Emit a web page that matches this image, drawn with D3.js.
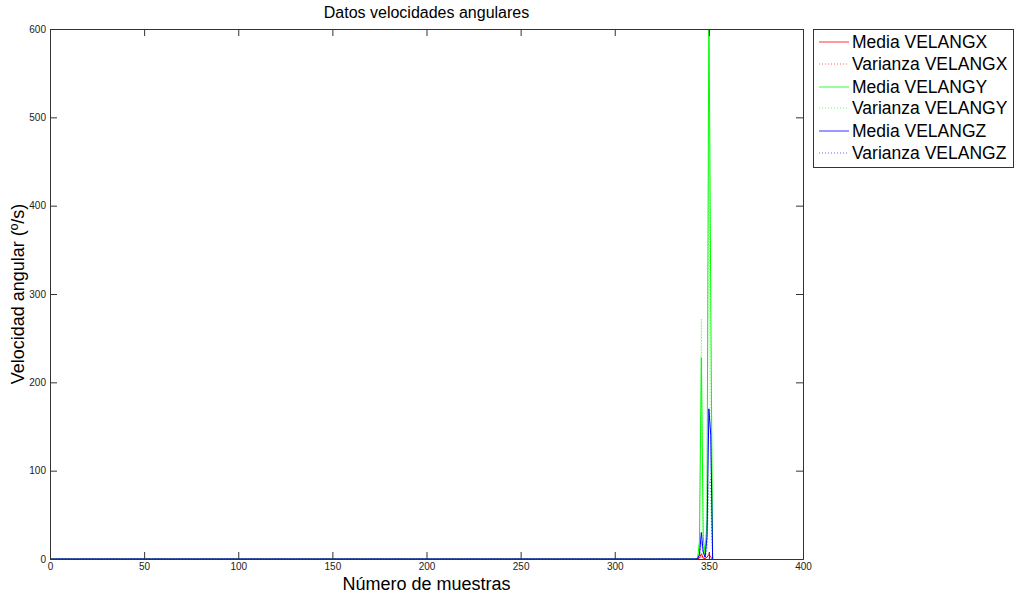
<!DOCTYPE html>
<html>
<head>
<meta charset="utf-8">
<script src="https://cdn.jsdelivr.net/npm/d3@7"></script>
<style>
  html, body { margin: 0; padding: 0; background: #fff; }
  svg { display: block; font-family: "Liberation Sans", Arial, sans-serif; }
</style>
</head>
<body>
<svg id="chart" width="1016" height="598"></svg>
<script>
// Sample numbers where the readings are recorded (flat at zero before the burst)
const samples = [0, 343, 344, 345, 346, 347, 348, 349, 350, 351, 352];

// Angular velocity statistics (º/s) per sample
const mediaX    = [0, 0, 0.3, 1, 6, 1, 0.5, 2, 5, 2, 0];
const varianzaX = [0, 0, 0.2, 0.5, 3, 0.5, 0.3, 1, 8, 1, 0];
const mediaY    = [0, 0, 1, 20, 228, 25, 5, 45, 640, 295, 0];
const varianzaY = [0, 0, 0.5, 10, 272, 15, 3, 30, 493, 60, 0];
const mediaZ    = [0, 0, 0.5, 5, 30, 8, 2, 25, 170, 140, 0];
const varianzaZ = [0, 0, 0.3, 3, 20, 5, 1, 10, 85, 90, 0];

const xTicks = [0, 50, 100, 150, 200, 250, 300, 350, 400];
const yTicks = [0, 100, 200, 300, 400, 500, 600];

const seriesNames = ["Media VELANGX", "Varianza VELANGX", "Media VELANGY",
                     "Varianza VELANGY", "Media VELANGZ", "Varianza VELANGZ"];
const seriesValues = [mediaX, varianzaX, mediaY, varianzaY, mediaZ, varianzaZ];
const seriesColors = ["#ff0000", "#ff0000", "#00ff00", "#00ff00", "#0000ff", "#0000ff"];
const seriesDashed = [false, true, false, true, false, true];

const svg = d3.select("#chart");
const plot = { left: 50, top: 29, right: 803, bottom: 559 };

const x = d3.scaleLinear().domain([0, 400]).range([plot.left, plot.right]);
const y = d3.scaleLinear().domain([0, 600]).range([plot.bottom, plot.top]);

svg.append("defs").append("clipPath").attr("id", "plotClip")
  .append("rect")
  .attr("x", plot.left).attr("y", plot.top)
  .attr("width", plot.right - plot.left).attr("height", plot.bottom - plot.top);

// Data lines
const line = d3.line().x(d => x(d[0])).y(d => y(d[1]));
const lines = svg.append("g").attr("clip-path", "url(#plotClip)");
seriesValues.forEach((vals, i) => {
  lines.append("path")
    .datum(samples.map((s, j) => [s, vals[j]]))
    .attr("d", line)
    .attr("fill", "none")
    .attr("stroke", seriesColors[i])
    .attr("stroke-width", 1)
    .attr("stroke-dasharray", seriesDashed[i] ? "1,2" : null)
    .attr("opacity", seriesDashed[i] ? 0.6 : 1);
});

// Axes with inward ticks on all four sides
const tickLen = 7;
const axisColor = "#333";
const axisBottom = d3.axisBottom(x).tickValues(xTicks).tickSize(-tickLen).tickPadding(4);
const axisTop = d3.axisTop(x).tickValues(xTicks).tickSize(-tickLen).tickFormat("");
const axisLeft = d3.axisLeft(y).tickValues(yTicks).tickSize(-tickLen).tickPadding(4);
const axisRight = d3.axisRight(y).tickValues(yTicks).tickSize(-tickLen).tickFormat("");

function styleAxis(g) {
  g.select(".domain").attr("stroke", axisColor);
  g.selectAll(".tick line").attr("stroke", axisColor);
  g.selectAll(".tick text").attr("fill", "#222")
    .style("font-family", "'Liberation Sans', Arial, sans-serif").style("font-size", "10px");
}

svg.append("g").attr("transform", `translate(0,${plot.bottom})`).call(axisBottom).call(styleAxis);
svg.append("g").attr("transform", `translate(0,${plot.top})`).call(axisTop).call(styleAxis);
svg.append("g").attr("transform", `translate(${plot.left},0)`).call(axisLeft).call(styleAxis);
svg.append("g").attr("transform", `translate(${plot.right},0)`).call(axisRight).call(styleAxis);

// Title and axis labels
svg.append("text")
  .attr("x", (plot.left + plot.right) / 2).attr("y", 18)
  .attr("text-anchor", "middle").style("font-size", "16px").attr("fill", "#000")
  .text("Datos velocidades angulares");

svg.append("text")
  .attr("x", (plot.left + plot.right) / 2).attr("y", 590)
  .attr("text-anchor", "middle").style("font-size", "18px").attr("fill", "#000")
  .text("Número de muestras");

svg.append("text")
  .attr("transform", `translate(24,${(plot.top + plot.bottom) / 2}) rotate(-90)`)
  .attr("text-anchor", "middle").style("font-size", "18px").attr("fill", "#000")
  .text("Velocidad angular (º/s)");

// Legend
const legend = svg.append("g");
legend.append("rect")
  .attr("x", 813.5).attr("y", 29.5).attr("width", 200).attr("height", 138)
  .attr("fill", "#fff").attr("stroke", "#333").attr("stroke-width", 1);
const rowY = [42, 64, 87, 108, 131, 153];
seriesNames.forEach((name, i) => {
  legend.append("line")
    .attr("x1", 819).attr("x2", 849).attr("y1", rowY[i]).attr("y2", rowY[i])
    .attr("stroke", seriesColors[i]).attr("stroke-width", 1)
    .attr("stroke-dasharray", seriesDashed[i] ? "1,2" : null)
    .attr("opacity", seriesDashed[i] ? 0.6 : 0.8);
  legend.append("text")
    .attr("x", 852).attr("y", rowY[i] + 6)
    .style("font-size", "17.5px").attr("fill", "#000")
    .text(name);
});
</script>
</body>
</html>
